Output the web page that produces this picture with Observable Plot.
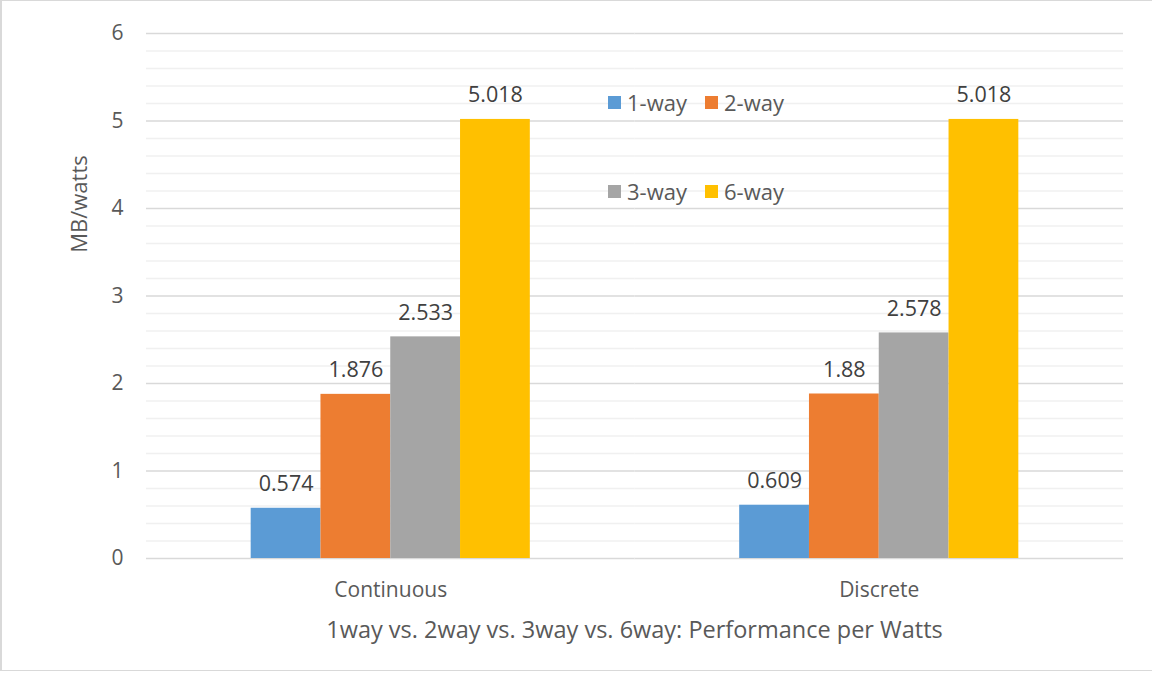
<!DOCTYPE html>
<html>
<head>
<meta charset="utf-8">
<script src="https://cdn.jsdelivr.net/npm/d3@7"></script>
<script src="https://cdn.jsdelivr.net/npm/@observablehq/plot@0.6"></script>
<style>
  html, body { margin: 0; padding: 0; background: #fff; }
  #chart { position: relative; width: 1152px; height: 673px; font-family: "Open Sans", sans-serif; color: #595959; }
  #chart svg { position: absolute; left: 0; top: 0; }
  .frame { position: absolute; left: 0; top: 0; width: 1152px; height: 671px; box-sizing: border-box;
           border-top: 1px solid #d9d9d9; border-left: 2px solid #d9d9d9; border-bottom: 1px solid #d9d9d9; pointer-events: none; }
  .title { position: absolute; left: 146px; width: 977px; top: 614px; line-height: 30px; text-align: center; font-size: 23.5px; white-space: nowrap; }
  .ylabel { position: absolute; left: 78px; top: 204px; transform: translate(-50%, -50%) rotate(-90deg); font-size: 22px; white-space: nowrap; }
  .legend-item { position: absolute; font-size: 22px; line-height: 22px; display: flex; align-items: center; white-space: nowrap; }
  .legend-item span.sw { display: inline-block; width: 13px; height: 13px; margin-right: 6px; }
</style>
</head>
<body>
<div id="chart"></div>
<script>
// Performance per watt for each redundancy level, by access pattern
const categories = ["Continuous", "Discrete"];
const series = ["1-way", "2-way", "3-way", "6-way"];
const continuousValues = [0.574, 1.876, 2.533, 5.018];
const discreteValues = [0.609, 1.88, 2.578, 5.018];
const seriesColors = ["#5B9BD5", "#ED7D31", "#A5A5A5", "#FFC000"];
const yTicks = [0, 1, 2, 3, 4, 5, 6];
const titleText = "1way vs. 2way vs. 3way vs. 6way: Performance per Watts";
const yLabelText = "MB/watts";

const valuesByCategory = [continuousValues, discreteValues];
const data = categories.flatMap((category, i) =>
  series.map((s, j) => ({category, series: s, value: valuesByCategory[i][j]}))
);

// minor gridlines every 0.2 between the major ticks
const minorTicks = d3.ticks(0, 6, 30).filter(t => Math.abs(t - Math.round(t)) > 1e-9);

const chart = Plot.plot({
  width: 1152,
  height: 673,
  marginLeft: 146,
  marginRight: 29,
  marginTop: 33,
  marginBottom: 115,
  style: {fontFamily: "Open Sans, sans-serif", fontSize: "21px", color: "#595959", background: "transparent"},
  fx: {domain: categories, padding: 0, round: false, label: null, tickSize: 0, tickPadding: 24},
  x: {domain: series, paddingInner: 0, paddingOuter: 1.5, round: false, axis: null},
  y: {domain: [0, 6], ticks: yTicks, tickFormat: d => String(d), tickSize: 0, tickPadding: 23, label: null},
  color: {domain: series, range: seriesColors},
  marks: [
    Plot.ruleY(minorTicks, {stroke: "#f0f0f0", strokeWidth: 1.5}),
    Plot.ruleY(yTicks, {stroke: "#d9d9d9", strokeWidth: 1.5}),
    Plot.barY(data, {fx: "category", x: "series", y: "value", fill: "series"}),
    Plot.text(data, {
      fx: "category", x: "series", y: "value",
      text: d => String(d.value),
      lineAnchor: "bottom", dy: -17, fill: "#404040", fontSize: 21.5
    })
  ]
});

const root = document.getElementById("chart");
root.appendChild(chart);

const frame = document.createElement("div");
frame.className = "frame";
root.appendChild(frame);

const title = document.createElement("div");
title.className = "title";
title.textContent = titleText;
root.appendChild(title);

const ylab = document.createElement("div");
ylab.className = "ylabel";
ylab.textContent = yLabelText;
root.appendChild(ylab);

// two-row legend inside the plot area
const legendSlots = [[608, 91], [705, 91], [608, 180], [705, 180]];
series.forEach((s, i) => {
  const item = document.createElement("div");
  item.className = "legend-item";
  item.style.left = legendSlots[i][0] + "px";
  item.style.top = legendSlots[i][1] + "px";
  const sw = document.createElement("span");
  sw.className = "sw";
  sw.style.background = seriesColors[i];
  item.appendChild(sw);
  item.appendChild(document.createTextNode(s));
  root.appendChild(item);
});
</script>
</body>
</html>
